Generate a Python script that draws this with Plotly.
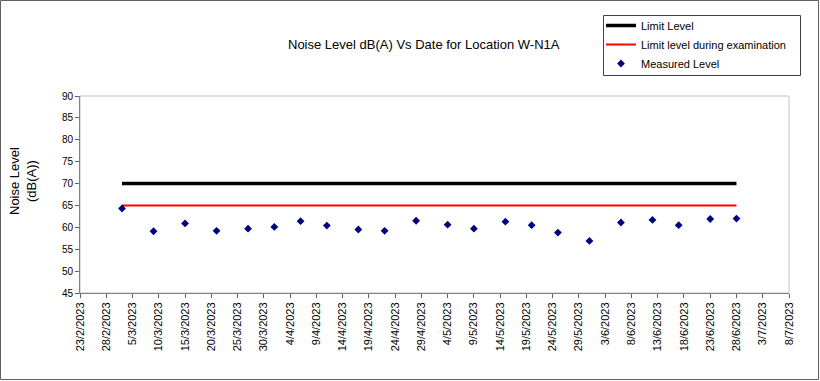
import plotly.graph_objects as go

# ---- data ----
measure_dates = [
    "2023-03-03", "2023-03-09", "2023-03-15", "2023-03-21", "2023-03-27",
    "2023-04-01", "2023-04-06", "2023-04-11", "2023-04-17", "2023-04-22",
    "2023-04-28", "2023-05-04", "2023-05-09", "2023-05-15", "2023-05-20",
    "2023-05-25", "2023-05-31", "2023-06-06", "2023-06-12", "2023-06-17",
    "2023-06-23", "2023-06-28",
]
measured_level = [
    64.3, 59.1, 60.9, 59.2, 59.7, 60.1, 61.4, 60.4, 59.5, 59.2, 61.5,
    60.6, 59.7, 61.3, 60.5, 58.8, 56.9, 61.1, 61.7, 60.5, 61.9, 62.0,
]
limit_dates = ["2023-03-03", "2023-06-28"]
limit_level = [70, 70]
exam_limit_level = [65, 65]

x_range = ["2023-02-23", "2023-07-08"]
y_range = [45, 90]

title_text = "Noise Level dB(A) Vs Date for Location W-N1A"
y_title = "Noise Level<br>(dB(A))"

# ---- figure ----
W, H = 820, 381
L, R, T, B = 80, 789, 96, 293
pw, ph = R - L, B - T

def px(x):
    return (x - L) / pw

def py(y):
    return (B - y) / ph

fig = go.Figure()
fig.add_trace(go.Scatter(
    x=limit_dates, y=limit_level, mode="lines", name="Limit Level",
    line=dict(color="#000000", width=3.5),
))
fig.add_trace(go.Scatter(
    x=limit_dates, y=exam_limit_level, mode="lines",
    name="Limit level during examination",
    line=dict(color="#ff0000", width=2),
))
fig.add_trace(go.Scatter(
    x=measure_dates, y=measured_level, mode="markers", name="Measured Level",
    marker=dict(symbol="diamond", color="#000080", size=6),
))

font_family = "Arial, Liberation Sans, sans-serif"

fig.update_layout(
    width=W, height=H,
    margin=dict(l=L, r=W - R, t=T, b=H - B, pad=0, autoexpand=False),
    paper_bgcolor="white", plot_bgcolor="white",
    font=dict(family=font_family, color="#000000", size=11),
    showlegend=True,
    legend=dict(
        x=px(601), y=py(11), xanchor="left", yanchor="top",
        borderwidth=0, bgcolor="rgba(0,0,0,0)",
        font=dict(size=11, family=font_family),
        tracegroupgap=0, itemwidth=30,
    ),
    xaxis=dict(
        type="date", range=x_range,
        tick0="2023-02-23", dtick=5 * 86400000,
        tickformat="%-d/%-m/%Y", tickangle=-90,
        ticks="outside", ticklen=4, tickcolor="#606060",
        showline=True, linecolor="#808080", linewidth=1,
        showgrid=False, zeroline=False,
        tickfont=dict(size=11, color="#000000"),
    ),
    yaxis=dict(
        range=y_range, dtick=5, tick0=45,
        ticks="outside", ticklen=4, tickcolor="#606060",
        showline=True, linecolor="#808080", linewidth=1,
        showgrid=False, zeroline=False,
        tickfont=dict(size=10, color="#000000"),
    ),
)

# plot area border (top & right light grey)
fig.add_shape(type="rect", xref="paper", yref="paper", x0=0, y0=0, x1=1, y1=1,
              line=dict(color="#c0c0c0", width=1), layer="below")
# outer chart border
fig.add_shape(type="rect", xref="paper", yref="paper",
              x0=px(0.5), x1=px(818.5), y0=py(379.5), y1=py(0.5),
              line=dict(color="#606060", width=1), layer="above")
# legend border
fig.add_shape(type="rect", xref="paper", yref="paper",
              x0=px(603.5), x1=px(800.5), y0=py(75.5), y1=py(15.5),
              line=dict(color="#404040", width=1), layer="below")

fig.add_annotation(text=title_text, xref="paper", yref="paper",
                   x=px(423.5), y=py(44), xanchor="center", yanchor="middle",
                   showarrow=False, font=dict(size=13, family=font_family))
fig.add_annotation(text=y_title, xref="paper", yref="paper",
                   x=px(23), y=py(181), xanchor="center", yanchor="middle",
                   textangle=-90, showarrow=False,
                   font=dict(size=13, family=font_family))

fig.write_html(
    "out.html",
    config={"displayModeBar": False},
    post_script="document.body.style.margin='0';document.body.style.overflow='hidden';",
)
